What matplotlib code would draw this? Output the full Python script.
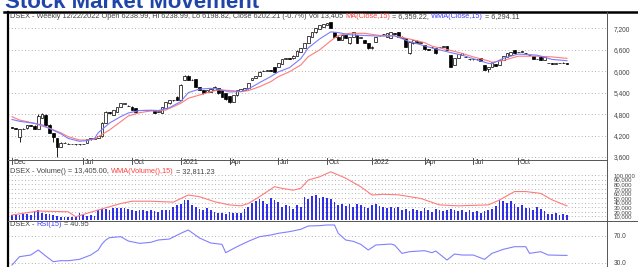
import matplotlib
matplotlib.use("Agg")
import matplotlib.pyplot as plt
from matplotlib.lines import Line2D
import numpy as np

# ---------------- data ----------------
opens = [4430,4405,4170,4380,4400,4490,4480,4385,4700,4780,4500,4260,4120,3890,3995,3975,3960,3955,3950,3955,
         4000,4090,4100,4140,4180,4545,4850,4780,4870,5006,5090,5040,5006,4960,4910,4915,4910,4915,4915,4870,
         4830,4960,5100,5190,5285,5190,5754,5866,5760,5774,5560,5474,5430,5430,5474,5520,5474,5380,5300,5150,
         5330,5450,5480,5520,5754,5810,5866,6010,6015,6020,6118,6118,6200,6345,6360,6360,6434,6546,6650,6790,
         6960,7085,7180,7240,7300,7368,7105,6965,6873,7010,6780,6965,7010,6940,6873,6780,6640,6825,7000,7030,
         6960,6920,7060,7100,6970,6920,6500,6780,6850,6800,6730,6610,6670,6640,6680,6690,6700,6450,6175,6370,
         6450,6405,6340,6330,6335,6360,6175,6050,6125,6200,6180,6315,6405,6450,6590,6530,6546,6500,6455,6425,
         6340,6400,6315,6230,6215,6210,6225,6235,6238.99]
highs = [4445,4415,4390,4400,4500,4495,4490,4790,4830,4790,4510,4280,4130,4010,4010,3980,3965,3960,3960,3970,
         4100,4140,4150,4200,4570,4880,4870,4920,5010,5110,5110,5050,5015,4970,4920,4925,4920,4920,4920,4880,
         4995,5150,5195,5200,5295,5630,5880,5880,5770,5785,5570,5480,5480,5505,5575,5530,5480,5390,5310,5335,
         5480,5500,5525,5675,5815,5870,5995,6025,6030,6030,6125,6235,6345,6370,6370,6440,6580,6645,6795,6990,
         7090,7215,7295,7330,7360,7380,7110,6980,7015,7020,6970,7105,7020,6960,6880,6790,6700,6970,7015,7045,
         7065,7105,7070,7110,6980,6930,6830,6875,6860,6810,6740,6620,6680,6650,6690,6700,6710,6460,6365,6485,
         6510,6415,6350,6340,6350,6370,6180,6130,6270,6210,6320,6430,6505,6550,6600,6545,6555,6510,6465,6430,
         6350,6410,6400,6240,6225,6220,6240,6245,6238.99]
lows = [4400,4385,4030,4370,4390,4470,4370,4375,4690,4470,4260,4030,3603,3880,3990,3960,3950,3945,3940,3950,
        3995,4080,4090,4130,4170,4540,4800,4770,4860,5000,5085,5020,4910,4865,4905,4905,4900,4905,4835,4860,
        4825,4955,5095,5170,5185,5185,5740,5750,5745,5560,5470,5375,5425,5425,5470,5375,5280,5200,5100,5140,
        5320,5440,5470,5510,5745,5800,5860,6005,6010,6005,5985,6110,6195,6340,6350,6355,6430,6540,6645,6785,
        6955,7080,7175,7235,7290,7205,6960,6860,6860,6915,6770,6960,6775,6935,6785,6635,6630,6820,6995,7025,
        6955,6915,7040,6965,6915,6680,6490,6770,6795,6790,6600,6590,6660,6495,6670,6680,6585,6120,6170,6365,
        6445,6395,6325,6320,6325,6285,6030,5980,6120,6140,6170,6310,6400,6440,6490,6525,6540,6495,6445,6335,
        6330,6310,6310,6220,6200,6200,6220,6230,6198.82]
closes = [4410,4395,4380,4390,4490,4480,4385,4760,4800,4500,4280,4150,3870,3990,4000,3965,3955,3950,3955,3965,
          4095,4130,4140,4190,4560,4870,4820,4915,5006,5100,5100,5030,4915,4870,4915,4910,4915,4910,4840,4870,
          4990,5145,5190,5185,5190,5615,5866,5760,5754,5567,5480,5380,5474,5500,5570,5380,5285,5210,5150,5330,
          5474,5490,5520,5670,5810,5866,5990,6015,6020,6015,5990,6230,6340,6360,6355,6434,6574,6640,6790,6985,
          7085,7210,7290,7320,7350,7210,6965,6873,7010,6920,6965,7100,6780,6950,6790,6640,6690,6965,7010,7040,
          7060,7100,7050,6970,6920,6685,6825,6870,6800,6800,6610,6600,6670,6500,6680,6690,6590,6125,6360,6480,
          6500,6400,6330,6330,6340,6290,6034,6125,6265,6150,6315,6425,6500,6546,6500,6540,6546,6500,6450,6340,
          6345,6315,6390,6230,6210,6212,6235,6240,6202.21]
volume = [13000,14000,12500,14500,15000,13500,21000,24000,17000,15000,16000,12000,10500,9000,9500,9000,8500,9500,
          17000,12000,11000,12500,11500,24000,26500,27000,25000,28500,29000,28000,28500,27000,
          24000,22000,25000,23000,21000,24000,22000,20000,25000,24000,23000,31000,35000,38000,45000,46000,
          35000,30000,27000,25000,28000,24000,19000,17000,18000,16000,19000,17000,16500,18000,27000,31000,
          40000,43000,47000,44000,38000,49000,45000,42000,31000,35000,33000,26000,34000,31000,
          52000,47000,54000,56000,50000,52000,49000,47000,42000,35000,38000,33000,36000,30000,38000,34000,
          31000,29000,35000,38000,33000,30000,28000,31000,29000,30000,
          24000,26000,22000,27000,25000,21000,28000,23000,20000,26000,24000,22000,25000,27000,
          24000,22000,25000,20000,23000,19000,21000,17000,22000,24000,27000,32000,45000,43000,40000,44000,
          36000,31000,34000,29000,28000,24000,30000,26000,22000,16000,15000,17000,14000,16000,13405]

ma_idx = [0,2,6,8,10,13,15,18,20,22,23,26,29,31,34,37,39,41,43,45,47,50,53,55,56,59,61,63,66,69,71,74,77,79,
          82,85,87,90,94,98,102,106,110,112,117,120,123,127,128,131,135,140,144,148]
ma_close = [4728,4635,4543,4467,4403,4280,4168,4076,4076,4095,4168,4356,4589,4747,4840,4887,4887,4915,5007,5102,
            5242,5334,5427,5474,5474,5455,5427,5455,5567,5707,5846,5986,6173,6406,6593,6850,7000,7060,7060,7000,
            6990,6900,6800,6700,6580,6500,6400,6290,6250,6300,6420,6420,6400,6359.22]
wma_idx = [0,2,6,8,10,13,15,18,20,22,23,26,29,31,34,37,39,42,45,47,50,53,55,58,61,63,66,69,71,74,77,79,82,
           85,87,90,94,98,102,106,112,117,120,123,127,128,131,135,140,144,148]
wma_close = [4650,4600,4540,4500,4400,4250,4120,4040,4060,4120,4280,4550,4730,4830,4900,4910,4900,4980,5150,
             5400,5500,5520,5500,5420,5430,5500,5680,5850,5980,6100,6350,6650,6900,7100,7080,7020,7000,6980,
             6990,6830,6650,6520,6450,6350,6220,6210,6360,6480,6450,6330,6294.11]
vwma_idx = [0,7,15,17,23,29,32,37,43,47,50,54,58,61,63,66,70,72,75,77,79,82,85,89,93,96,99,103,109,114,119,
            123,127,130,134,137,141,144,148]
vwma = [13000,21700,20000,9300,24000,38000,43000,43000,41000,56500,52900,42000,35000,33000,38000,52900,74600,
        71000,67000,71000,89000,96000,107000,93000,74500,56500,58000,57000,49000,35000,33000,34000,35000,45600,
        64000,64000,60000,46000,32811.23]
rsi_idx = [0,2,5,7,9,11,13,15,18,21,23,24,25,26,29,31,34,37,39,42,45,47,50,53,56,57,60,63,66,69,71,74,77,79,
           82,84,86,87,89,91,93,95,97,101,102,104,106,110,112,113,116,118,120,123,126,128,131,134,137,138,141,
           143,147,148]
rsi = [26.5,39,41.5,49,40,31.5,33,33,35,41.5,49,58,64,67.5,69,62.5,59,60.5,64,65.5,74,79,67,59.5,57.5,45,54,
       62,69,71.5,74,76.5,80,85,85.5,86.5,86.5,74,64,62,57.5,49,56.5,58,56.5,44,46.5,48,45,47.5,34,43,41.5,
       41.5,35,44,50,54,54,44,46.5,41.5,41,40.95]

tick_pos = [0,19,32,45,58,71,84,96,110,123,135]
tick_lab = ['Dec','Jul','Oct','2021','Apr','Jul','Oct','2022','Apr','Jul','Oct']
price_ticks = [3600,4200,4800,5400,6000,6600,7200]
vol_ticks = [10000,20000,30000,40000,50000,60000,70000,80000,90000,100000]
rsi_ticks = [30,70]

# ---------------- layout ----------------
W, H = 638, 267
fig = plt.figure(figsize=(W/100, H/100), dpi=100)
FONT = 'Liberation Sans'

def axrect(x0, y0, x1, y1):
    return [x0/W, 1-y1/H, (x1-x0)/W, (y1-y0)/H]

STEP = 3.75
X0PX = 12
def xlim_for(l, r):
    return ((l-X0PX)/STEP, (r-X0PX)/STEP)

def price_at(y):
    return 7200 - (y-28.3)*27.97
def vol_at(y):
    return (221-y)*2174
def rsi_at(y):
    return 70 - (y-236)/0.6675

ax_p = fig.add_axes(axrect(8, 12, 607, 159))
ax_v = fig.add_axes(axrect(8, 166, 607, 220))
ax_r = fig.add_axes(axrect(8, 221, 607, 280))

for ax in (ax_p, ax_v, ax_r):
    ax.set_xlim(*xlim_for(8, 607))
    for s in ax.spines.values():
        s.set_visible(False)
    ax.yaxis.tick_right()
    ax.tick_params(axis='y', length=0, pad=5, labelsize=4.8, labelcolor='#444444')
    ax.set_xticks([])
    ax.patch.set_alpha(0)
ax_v.tick_params(axis='y', labelsize=4.3)

ax_p.set_ylim(price_at(159), price_at(12))
ax_v.set_ylim(vol_at(220), vol_at(166))
ax_r.set_ylim(rsi_at(280), rsi_at(221))

grid_kw = dict(color='#999999', lw=0.6, ls=(0, (1, 3)))
ax_p.set_yticks(price_ticks)
ax_p.set_yticklabels([f"{v:,}" for v in price_ticks], family=FONT)
for v in price_ticks:
    ax_p.axhline(v, **grid_kw, zorder=0)
ax_v.set_yticks(vol_ticks)
ax_v.set_yticklabels([f"{v:,}" for v in vol_ticks], family=FONT)
for v in vol_ticks:
    ax_v.axhline(v, **grid_kw, zorder=0)
ax_r.set_yticks(rsi_ticks)
ax_r.set_yticklabels([f"{v:.1f}" for v in rsi_ticks], family=FONT)
for v in rsi_ticks:
    ax_r.axhline(v, **grid_kw, zorder=0)

# ---------------- candles ----------------
idx = np.arange(len(closes))
o = np.array(opens, float); h = np.array(highs, float)
l = np.array(lows, float); c = np.array(closes, float)
ax_p.vlines(idx, l, h, color='black', lw=0.6, zorder=2)
up = c >= o
body_b = np.minimum(o, c)
body_h = np.maximum(np.abs(c - o), 8)
ax_p.bar(idx[up], body_h[up], bottom=body_b[up], width=0.75, facecolor='white',
         edgecolor='black', lw=0.5, zorder=3)
ax_p.bar(idx[~up], body_h[~up], bottom=body_b[~up], width=0.75, facecolor='black',
         edgecolor='black', lw=0.5, zorder=3)
ax_p.plot(ma_idx, ma_close, color='#ff7b7b', lw=0.8, zorder=4)
ax_p.plot(wma_idx, wma_close, color='#7b7bff', lw=0.8, zorder=4)

# x ticks
for p, t in zip(tick_pos, tick_lab):
    ax_p.plot([p, p], [price_at(158), price_at(164)], color='#333333', lw=0.6, clip_on=False)
    ax_p.text(p + 0.5, price_at(159.5), t, fontsize=5.0, family=FONT, color='#333333',
              ha='left', va='top', clip_on=False)

# ---------------- volume ----------------
ax_v.bar(idx, volume, width=0.5, color='#3030e8', zorder=2)
ax_v.plot(vwma_idx, vwma, color='#ff7b7b', lw=0.8, zorder=3)

# ---------------- RSI ----------------
ax_r.plot(rsi_idx, rsi, color='#8080ff', lw=0.8, zorder=3)

# ---------------- frame lines ----------------
def fline(x0, y0, x1, y1, **kw):
    fig.add_artist(Line2D([x0/W, x1/W], [1-y0/H, 1-y1/H], transform=fig.transFigure, **kw))

fline(4, 12, 638, 12, color='black', lw=1.8)
fline(8, 12, 8, 267, color='black', lw=1.6)
fline(607, 12, 607, 267, color='#555555', lw=0.7)
fline(8, 159.5, 607, 159.5, color='#555555', lw=0.7)
fline(8, 220.5, 638, 220.5, color='#555555', lw=0.7)

# ---------------- texts ----------------
fig.text(5/W, 1-8/H, 'Stock Market Movement', fontsize=16, fontweight='bold',
         color='#1f45a8', family=FONT, ha='left', va='baseline')

renderer = fig.canvas.get_renderer()
def seg_text(x_px, y_px, parts, size=5.3):
    x = x_px
    for s, col in parts:
        t = fig.text(x/W, 1-y_px/H, s, color=col, fontsize=size, family=FONT,
                     ha='left', va='center')
        bb = t.get_window_extent(renderer=renderer)
        x += bb.width

G = '#444444'
seg_text(10, 16.5, [("DSEX - Weekly 12/22/2022 Open 6238.99, Hi 6238.99, Lo 6198.82, Close 6202.21 (-0.7%) Vol 13,405 ", G),
                    ("MA(Close,15)", '#ff4040'), (" = 6,359.22, ", G),
                    ("WMA(Close,15)", '#4040ff'), (" = 6,294.11", G)])
seg_text(10, 171.5, [("DSEX - Volume() = 13,405.00, ", G), ("WMA(Volume(),15)", '#ff4040'),
                     (" = 32,811.23", G)])
seg_text(10, 224.5, [("DSEX - ", G), ("RSI(15)", '#4040ff'), (" = 40.95", G)])

fig.savefig('out.png', dpi=100)
